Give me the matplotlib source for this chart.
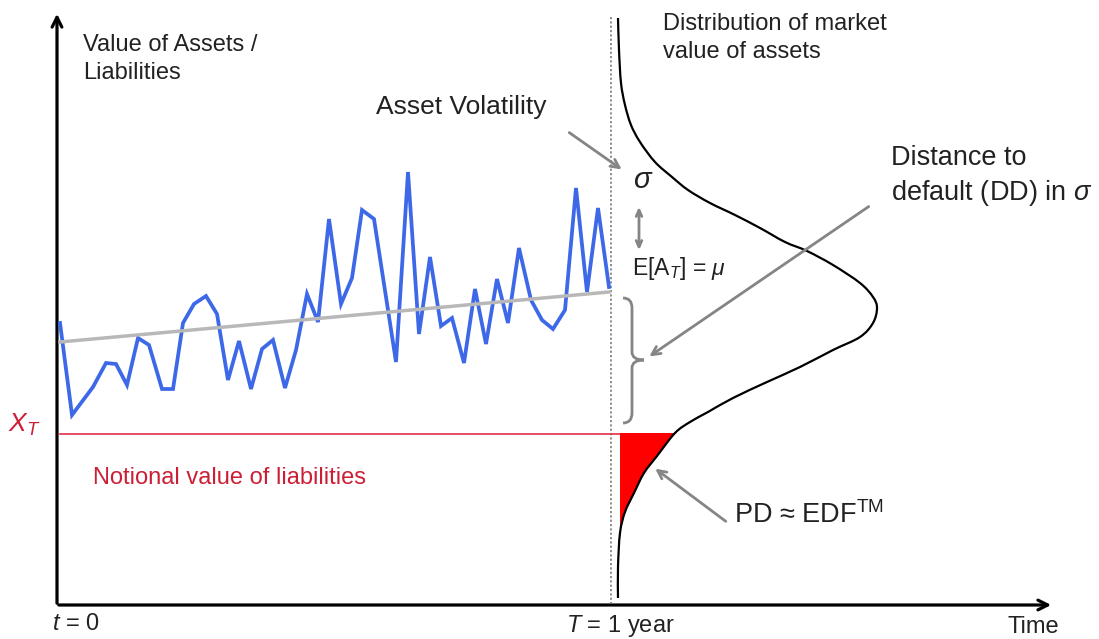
import matplotlib
matplotlib.use('Agg')
import matplotlib.pyplot as plt
from matplotlib.path import Path
from matplotlib.patches import PathPatch
import numpy as np

plt.rcParams['font.family'] = ['Liberation Sans', 'DejaVu Sans']
plt.rcParams['mathtext.fontset'] = 'custom'
plt.rcParams['mathtext.rm'] = 'Liberation Sans'
plt.rcParams['mathtext.it'] = 'Liberation Sans:italic'

# asset value path (pixel units)
asset_x = [60, 72, 93, 106, 116, 127, 138, 149, 162, 173, 183, 194, 206, 217, 228, 239,
           251, 262, 273, 285, 296, 307, 318, 329, 341, 352, 362, 374, 396, 408, 419, 430,
           441, 452, 464, 475, 486, 497, 508, 519, 531, 542, 553, 565, 576, 587, 598, 609]
asset_y = [323, 415, 387, 363, 364, 385, 338, 345, 389, 389, 323, 304, 296, 314, 380, 341,
           389, 349, 340, 388, 350, 294, 322, 219, 304, 278, 210, 219, 362, 172, 334, 257,
           326, 318, 363, 289, 344, 279, 323, 248, 300, 320, 329, 310, 188, 292, 208, 287]

trend_x = [60, 609]
trend_y = [342, 292]

# sideways distribution of asset value at T
dist_x = [618, 619, 621, 625, 631, 640, 655, 672, 688, 710, 735, 760, 785, 807, 833, 860,
          873, 877, 873, 860, 833, 800, 767, 733, 708, 690, 675, 657, 644, 634, 625, 620,
          618, 618]
dist_y = [18, 50, 83, 105, 125, 142, 162, 177, 190, 203, 215, 228, 242, 251, 265, 283,
          297, 308, 323, 337, 350, 367, 382, 398, 412, 422, 433, 456, 473, 493, 512, 533,
          567, 598]

liab_y = 434
t_end = 611
base_x = 620

W, H = 1099, 639
fig = plt.figure(figsize=(W / 100, H / 100), dpi=100)
ax = fig.add_axes([0, 0, 1, 1])
ax.set_xlim(0, W)
ax.set_ylim(H, 0)
ax.axis('off')

txt = '#222222'
red = '#cc1f36'
grey = '#858585'


def smooth(xs, ys, i0, i1):
    # bezier segments through the read points (catmull-rom tangents)
    p = np.column_stack([xs, ys]).astype(float)
    n = len(p)
    verts, codes = [tuple(p[i0])], [Path.MOVETO]
    for i in range(i0, i1):
        a = p[max(i - 1, 0)]
        b, c = p[i], p[i + 1]
        d = p[min(i + 2, n - 1)]
        verts += [tuple(b + (c - a) / 6), tuple(c - (d - b) / 6), tuple(c)]
        codes += [Path.CURVE4] * 3
    return verts, codes


# axes with arrows
ax.annotate('', xy=(57, 11), xytext=(57, 606),
            arrowprops=dict(arrowstyle='->,head_length=0.7,head_width=0.35', lw=2.3, color='k'))
ax.annotate('', xy=(1054, 605), xytext=(56, 605),
            arrowprops=dict(arrowstyle='->,head_length=0.7,head_width=0.35', lw=2.3, color='k'))

# T = 1 year marker
ax.plot([t_end, t_end], [17, 603], color=grey, lw=1.3, ls=(0, (1.2, 1.2)))

# liabilities
ax.plot([60, base_x], [liab_y, liab_y], color='#e0304a', lw=1.2)

# asset path and trend
ax.plot(asset_x, asset_y, color='#3d68e8', lw=2.7, solid_joinstyle='miter', zorder=3)
ax.plot(trend_x, trend_y, color='#b8b8b8', lw=2.5, zorder=4)

# default area under the tail
i0 = dist_y.index(433)
i1 = dist_y.index(533)
v, c = smooth(dist_x, dist_y, i0, i1)
v += [(base_x, dist_y[i1]), (base_x, liab_y - 1), (dist_x[i0], liab_y - 1), v[0]]
c += [Path.LINETO, Path.LINETO, Path.LINETO, Path.CLOSEPOLY]
ax.add_patch(PathPatch(Path(v, c), fc='#ff0000', ec='none', zorder=2))

# distribution curve
v, c = smooth(dist_x, dist_y, 0, len(dist_x) - 1)
ax.add_patch(PathPatch(Path(v, c), fc='none', ec='k', lw=1.6, zorder=3))

# brace for DD
bx, top, bot, mid = 632, 298, 423, 360
verts = [(623, top), (bx, top), (bx, top + 10), (bx, mid - 8), (bx, mid), (bx + 12, mid),
         (bx, mid), (bx, mid + 8), (bx, bot - 10), (bx, bot), (623, bot)]
codes = [Path.MOVETO, Path.CURVE3, Path.CURVE3, Path.LINETO, Path.CURVE3, Path.CURVE3,
         Path.CURVE3, Path.CURVE3, Path.LINETO, Path.CURVE3, Path.CURVE3]
ax.add_patch(PathPatch(Path(verts, codes), fc='none', ec=grey, lw=2))

arrow = dict(arrowstyle='->,head_length=0.6,head_width=0.3', lw=2, color=grey)
ax.annotate('', xy=(624, 171), xytext=(567, 131), arrowprops=arrow)
ax.annotate('', xy=(647, 358), xytext=(871, 205), arrowprops=arrow)
ax.annotate('', xy=(653, 467), xytext=(728, 523), arrowprops=arrow)
ax.annotate('', xy=(639, 204), xytext=(639, 253),
            arrowprops=dict(arrowstyle='<->,head_length=0.45,head_width=0.2', lw=2, color=grey))

# labels
ax.text(83, 45, 'Value of Assets /', fontsize=17, color=txt, va='center')
ax.text(83, 73, 'Liabilities', fontsize=17, color=txt, va='center')
ax.text(376, 107, 'Asset Volatility', fontsize=19, color=txt, va='center')
ax.text(663, 24, 'Distribution of market', fontsize=17, color=txt, va='center')
ax.text(663, 52, 'value of assets', fontsize=17, color=txt, va='center')
ax.text(891, 158, 'Distance to', fontsize=19.5, color=txt, va='center')
ax.text(891, 193, r'default (DD) in $\sigma$', fontsize=19.5, color=txt, va='center')
ax.text(633, 180, r'$\sigma$', fontsize=21, color=txt, va='center')
ax.text(632, 268, r'E[A$_T$] = $\mu$', fontsize=16.5, color=txt, va='center')
ax.text(734, 515, r'PD ≈ EDF$^{\mathrm{TM}}$', fontsize=19.5, color=txt, va='center')
ax.text(8, 425, r'$X_T$', fontsize=19, color=red, va='center')
ax.text(93, 478, 'Notional value of liabilities', fontsize=17, color=red, va='center')
ax.text(52, 624, r'$t$ = 0', fontsize=17, color=txt, va='center')
ax.text(566, 626, r'$T$ = 1 year', fontsize=17, color=txt, va='center')
ax.text(1008, 627, 'Time', fontsize=17, color=txt, va='center')

fig.savefig('out.png', dpi=100)
